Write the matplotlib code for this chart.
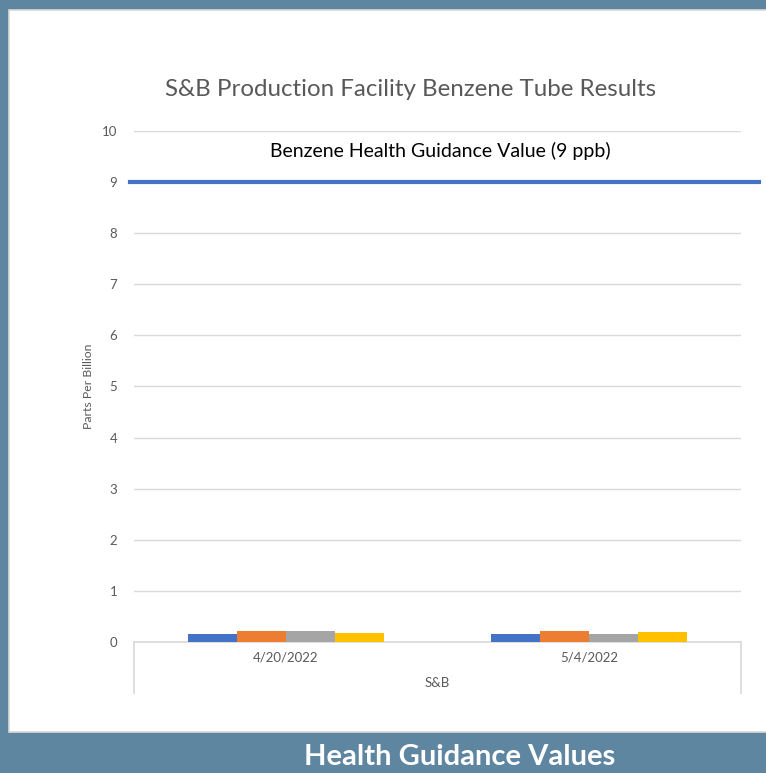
import matplotlib.pyplot as plt
import numpy as np

# data
dates = ["4/20/2022", "5/4/2022"]
site = "S&B"
series_names = ["Tube 1", "Tube 2", "Tube 3", "Tube 4"]
tube_1 = [0.16, 0.16]
tube_2 = [0.21, 0.21]
tube_3 = [0.22, 0.16]
tube_4 = [0.18, 0.20]
guidance_value = 9
y_ticks = list(range(0, 11))

colors = ["#4472C4", "#ED7D31", "#A5A5A5", "#FFC000"]
plt.rcParams["font.family"] = ["Lato", "DejaVu Sans"]

W, H = 766, 773
fig = plt.figure(figsize=(W / 100, H / 100), dpi=100)
fig.patch.set_facecolor("#5E86A0")

# white chart panel (behind the axes)
panel = plt.Rectangle((9 / W, 1 - 732 / H), 1, (732 - 10) / H, transform=fig.transFigure,
                      facecolor="white", edgecolor="#D9D9D9", linewidth=1.2, zorder=-10)
fig.patches.append(panel)

ax = fig.add_axes([134 / W, 1 - 642 / H, (741 - 134) / W, (642 - 131) / H])
ax.set_facecolor("none")

x = np.arange(len(dates))
w = 0.1614
for i, vals in enumerate([tube_1, tube_2, tube_3, tube_4]):
    ax.bar(x + (i - 1.5) * w, vals, width=w, color=colors[i], label=series_names[i], zorder=3)

ax.set_xlim(-0.5, len(dates) - 0.5)
ax.set_ylim(0, 10)
ax.set_yticks(y_ticks)
ax.yaxis.grid(True, color="#D9D9D9", linewidth=1)
ax.set_axisbelow(True)
for s in ["left", "right", "top"]:
    ax.spines[s].set_visible(False)
ax.spines["bottom"].set_color("#D9D9D9")
ax.spines["bottom"].set_linewidth(1.2)
ax.tick_params(axis="y", length=0, pad=12, labelsize=9.5, labelcolor="#595959")
ax.set_xticks(x)
ax.set_xticklabels(dates)
ax.tick_params(axis="x", length=0, pad=7, labelsize=9.5, labelcolor="#595959")

# multi-level category frame below the axis
for xe in [0, 1]:
    ax.plot([xe, xe], [0, -0.1], transform=ax.transAxes, color="#D9D9D9",
            linewidth=1.2, clip_on=False)
ax.text(0.5, -0.08, site, transform=ax.transAxes, ha="center", va="center",
        fontsize=9.5, color="#595959")

ax.set_ylabel("Parts Per Billion", fontsize=8.8, color="#595959", labelpad=6)

# guidance line
ax.axhline(guidance_value, xmin=-0.007, xmax=1.03, color="#4472C4", linewidth=3,
           clip_on=False, zorder=4)
ax.text((440 - 134) / (741 - 134), 9.6, "Benzene Health Guidance Value (9 ppb)",
        ha="center", va="center", transform=ax.get_yaxis_transform(),
        fontsize=14, color="black")

fig.text(411 / W, 1 - 89 / H, "S&B Production Facility Benzene Tube Results",
         ha="center", va="center", fontsize=17.4, color="#595959")
fig.text(460 / W, 1 - 757 / H, "Health Guidance Values", ha="center", va="center",
         fontsize=21, fontweight="bold", color="white")

fig.savefig("out.png", dpi=100, facecolor=fig.get_facecolor())
